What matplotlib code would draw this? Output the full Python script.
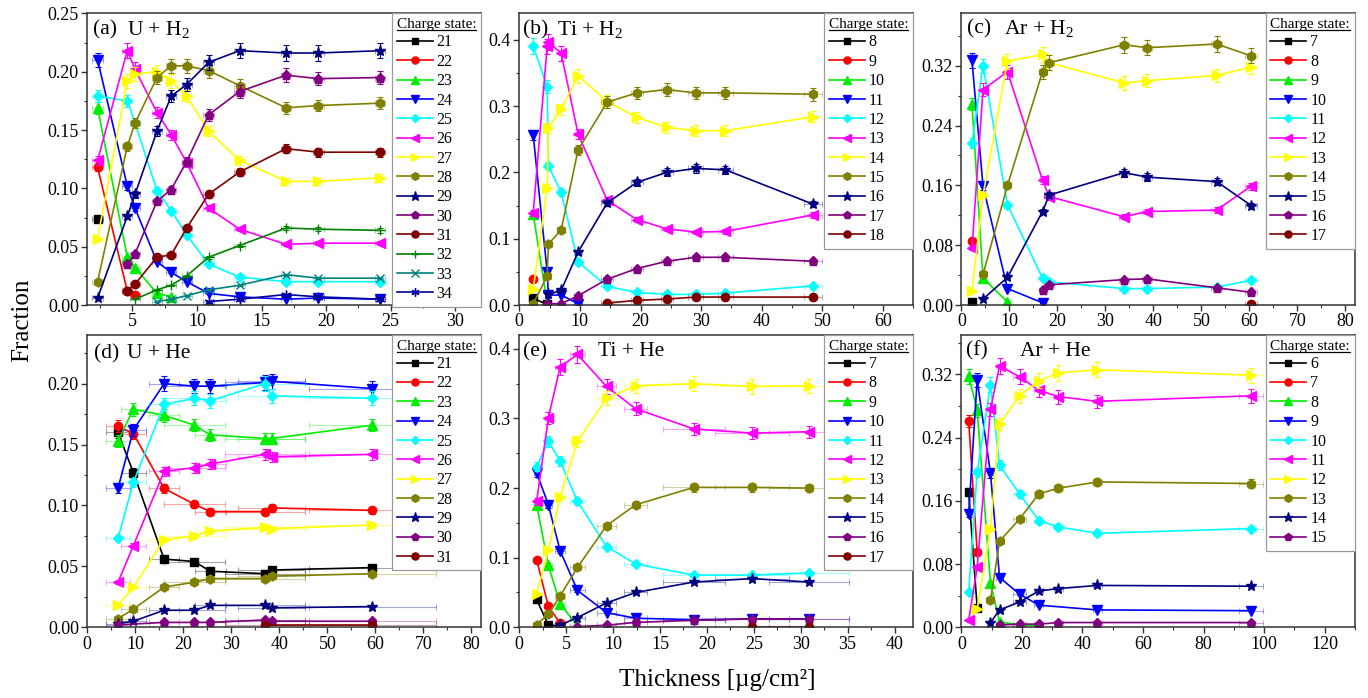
import numpy as np
import matplotlib

matplotlib.use("Agg")
import matplotlib.pyplot as plt
from matplotlib.lines import Line2D
from matplotlib.ticker import MultipleLocator, FormatStrFormatter

nan = np.nan

# ── (a) U + H2 ───────────────────────────────────────────────────────────────
THICK_A = [2.3, 4.6, 5.2, 6.9, 8.0, 9.2, 10.9, 13.3, 16.9, 19.4, 24.2]
XERR_A = [0.4, 0.4, 0.4, 0.4, 0.4, 0.4, 0.4, 0.4, 0.4, 0.4, 0.4]
STATES_A = [21, 22, 23, 24, 25, 26, 27, 28, 29, 30, 31, 32, 33, 34]
FRAC_A = [
    [0.074, nan, nan, nan, nan, nan, nan, nan, nan, nan, nan],
    [0.118, 0.012, 0.009, nan, nan, nan, nan, nan, nan, nan, nan],
    [0.169, 0.041, 0.032, 0.010, 0.007, nan, nan, nan, nan, nan, nan],
    [0.210, 0.102, 0.083, 0.037, 0.028, 0.020, 0.010, 0.007, 0.005, 0.006, 0.005],
    [0.179, 0.175, 0.156, 0.098, 0.081, 0.060, 0.035, 0.024, 0.020, 0.020, 0.020],
    [0.124, 0.218, 0.202, 0.165, 0.146, 0.122, 0.083, 0.065, 0.052, 0.053, 0.053],
    [0.057, 0.192, 0.198, 0.200, 0.192, 0.179, 0.149, 0.124, 0.106, 0.106, 0.109],
    [0.020, 0.136, 0.156, 0.195, 0.205, 0.205, 0.201, 0.188, 0.169, 0.171, 0.173],
    [0.006, 0.076, 0.095, 0.149, 0.179, 0.189, 0.208, 0.218, 0.216, 0.216, 0.218],
    [nan, 0.035, 0.044, 0.089, 0.099, 0.123, 0.163, 0.183, 0.197, 0.194, 0.195],
    [nan, 0.012, 0.018, 0.041, 0.043, 0.066, 0.095, 0.114, 0.134, 0.131, 0.131],
    [nan, nan, 0.005, 0.013, 0.017, 0.025, 0.041, 0.051, 0.066, 0.065, 0.064],
    [nan, nan, nan, 0.003, 0.005, 0.008, 0.013, 0.017, 0.026, 0.023, 0.023],
    [nan, nan, nan, nan, nan, nan, 0.003, 0.005, 0.009, 0.007, 0.005],
]

# ── (b) Ti + H2 ──────────────────────────────────────────────────────────────
THICK_B = [2.3, 4.6, 4.8, 6.9, 9.7, 14.5, 19.4, 24.3, 29.1, 34.0, 48.5]
XERR_B = [0.3, 0.3, 0.3, 0.4, 0.6, 1.0, 1.0, 1.0, 1.2, 1.2, 1.5]
STATES_B = [8, 9, 10, 11, 12, 13, 14, 15, 16, 17, 18]
FRAC_B = [
    [0.010, 0.001, nan, nan, nan, nan, nan, nan, nan, nan, nan],
    [0.039, nan, nan, nan, nan, nan, nan, nan, nan, nan, nan],
    [0.137, 0.003, nan, nan, nan, nan, nan, nan, nan, nan, nan],
    [0.256, 0.050, 0.015, 0.015, 0.002, nan, nan, nan, nan, nan, nan],
    [0.391, 0.329, 0.210, 0.170, 0.065, 0.028, 0.019, 0.016, 0.016, 0.018, 0.029],
    [0.139, 0.390, 0.397, 0.380, 0.258, 0.158, 0.129, 0.115, 0.110, 0.111, 0.136],
    [0.024, 0.177, 0.267, 0.295, 0.346, 0.307, 0.283, 0.268, 0.263, 0.263, 0.284],
    [0.002, 0.044, 0.092, 0.113, 0.234, 0.306, 0.320, 0.325, 0.320, 0.320, 0.318],
    [nan, nan, 0.016, 0.022, 0.080, 0.154, 0.185, 0.200, 0.206, 0.204, 0.152],
    [nan, 0.002, nan, 0.002, 0.014, 0.039, 0.055, 0.066, 0.072, 0.072, 0.066],
    [nan, nan, nan, nan, nan, 0.003, 0.007, 0.009, 0.012, 0.012, 0.012],
]

# ── (c) Ar + H2 ──────────────────────────────────────────────────────────────
THICK_C = [2.2, 4.5, 9.6, 16.9, 18.3, 33.9, 38.7, 53.2, 60.4]
XERR_C = [0.3, 0.3, 0.5, 0.6, 1.0, 1.1, 1.1, 1.1, 1.2]
STATES_C = [7, 8, 9, 10, 11, 12, 13, 14, 15, 16, 17]
FRAC_C = [
    [0.004, nan, nan, nan, nan, nan, nan, nan, nan],
    [0.086, nan, nan, nan, nan, nan, nan, nan, nan],
    [0.269, 0.036, 0.004, nan, nan, nan, nan, nan, nan],
    [0.327, 0.159, 0.022, 0.003, nan, nan, nan, nan, nan],
    [0.217, 0.320, 0.134, 0.036, 0.031, 0.022, 0.022, 0.024, 0.033],
    [0.076, 0.288, 0.312, 0.167, 0.145, 0.118, 0.125, 0.127, 0.159],
    [0.019, 0.147, 0.326, 0.335, 0.324, 0.297, 0.300, 0.307, 0.318],
    [nan, 0.041, 0.160, 0.312, 0.324, 0.348, 0.344, 0.349, 0.333],
    [nan, 0.008, 0.037, 0.125, 0.147, 0.177, 0.171, 0.165, 0.133],
    [nan, nan, nan, 0.020, 0.027, 0.034, 0.035, 0.023, 0.017],
    [nan, nan, nan, nan, nan, nan, nan, nan, 0.001],
]

# ── (d) U + He ───────────────────────────────────────────────────────────────
THICK_D = [6.4, 9.6, 16.0, 22.3, 25.6, 37.0, 38.4, 59.4]
XERR_D = [2.5, 2.6, 3.2, 6.3, 3.2, 8.4, 7.0, 13.2]
STATES_D = [21, 22, 23, 24, 25, 26, 27, 28, 29, 30, 31]
FRAC_D = [
    [0.160, 0.127, 0.056, 0.054, 0.046, 0.044, 0.047, 0.049],
    [0.165, 0.159, 0.114, 0.101, 0.095, 0.095, 0.098, 0.096],
    [0.153, 0.179, 0.174, 0.166, 0.158, 0.155, 0.155, 0.166],
    [0.114, 0.162, 0.200, 0.198, 0.198, 0.201, 0.202, 0.196],
    [0.073, 0.119, 0.183, 0.188, 0.186, 0.200, 0.190, 0.188],
    [0.037, 0.067, 0.128, 0.131, 0.134, 0.142, 0.140, 0.142],
    [0.018, 0.033, 0.072, 0.075, 0.079, 0.082, 0.081, 0.084],
    [0.007, 0.015, 0.033, 0.037, 0.040, 0.040, 0.042, 0.044],
    [0.003, 0.005, 0.014, 0.014, 0.018, 0.018, 0.016, 0.017],
    [0.002, nan, 0.004, 0.004, 0.004, 0.006, 0.005, 0.005],
    [nan, nan, nan, nan, nan, 0.002, nan, 0.002],
]

# ── (e) Ti + He ──────────────────────────────────────────────────────────────
THICK_E = [1.85, 3.1, 4.35, 6.2, 9.3, 12.4, 18.6, 24.8, 30.9]
XERR_E = [0.3, 0.4, 0.5, 0.8, 1.0, 1.2, 3.3, 3.9, 4.3]
STATES_E = [7, 8, 9, 10, 11, 12, 13, 14, 15, 16, 17]
FRAC_E = [
    [0.040, 0.003, 0.002, nan, nan, nan, nan, nan, nan],
    [0.097, 0.030, 0.006, nan, nan, nan, nan, nan, nan],
    [0.176, 0.089, 0.034, 0.002, nan, nan, nan, nan, nan],
    [0.222, 0.176, 0.110, 0.053, 0.021, 0.013, 0.011, 0.012, 0.012],
    [0.231, 0.267, 0.239, 0.181, 0.116, 0.091, 0.075, 0.075, 0.078],
    [0.181, 0.301, 0.374, 0.392, 0.346, 0.314, 0.285, 0.279, 0.281],
    [0.048, 0.111, 0.187, 0.267, 0.329, 0.347, 0.350, 0.346, 0.347],
    [0.004, 0.019, 0.045, 0.086, 0.146, 0.176, 0.201, 0.201, 0.200],
    [nan, nan, 0.003, 0.014, 0.035, 0.050, 0.065, 0.070, 0.065],
    [nan, nan, nan, 0.001, 0.003, 0.007, 0.010, 0.012, 0.012],
    [nan, nan, nan, nan, nan, nan, nan, 0.001, 0.001],
]

# ── (f) Ar + He ──────────────────────────────────────────────────────────────
THICK_F = [2.4, 5.2, 9.6, 12.6, 19.2, 25.6, 32.0, 44.9, 95.8]
XERR_F = [0.4, 0.5, 0.8, 1.2, 2.0, 1.5, 1.5, 1.5, 4.0]
STATES_F = [6, 7, 8, 9, 10, 11, 12, 13, 14, 15]
FRAC_F = [
    [0.171, 0.025, nan, nan, nan, nan, nan, nan, nan],
    [0.261, 0.095, nan, nan, nan, nan, nan, nan, nan],
    [0.318, 0.275, 0.056, 0.007, 0.003, 0.002, nan, nan, nan],
    [0.144, 0.313, 0.195, 0.063, 0.042, 0.028, nan, 0.022, 0.021],
    [0.045, 0.196, 0.307, 0.205, 0.169, 0.135, 0.127, 0.119, 0.125],
    [0.009, 0.076, 0.276, 0.331, 0.317, 0.300, 0.292, 0.286, 0.293],
    [nan, 0.023, 0.125, 0.257, 0.293, 0.312, 0.322, 0.326, 0.319],
    [nan, nan, 0.034, 0.109, 0.137, 0.169, 0.176, 0.184, 0.182],
    [nan, nan, 0.006, 0.022, 0.032, 0.046, 0.049, 0.053, 0.052],
    [nan, nan, nan, 0.003, 0.004, 0.004, 0.006, 0.006, 0.006],
]

# relative uncertainty of the measured fractions
REL_YERR = 0.03

# Origin-like colour/marker cycle, one per charge state in order
COLOURS = ["#000000", "#FF0000", "#00EE00", "#0000FF", "#00FFFF", "#FF00FF",
           "#FFFF00", "#808000", "#000080", "#800080", "#800000", "#008000",
           "#008080", "#0000A0"]
MARKERS = ["s", "o", "^", "v", "D", "<", ">", "h", "*", "p", "o", "+", "x",
           (6, 2, 0)]
MSIZE = {"s": 5.5, "o": 6, "^": 6.5, "v": 6.5, "D": 5, "<": 6.5, ">": 6.5,
         "h": 6.5, "*": 8, "p": 6.5, "+": 7, "x": 6}

plt.rcParams.update({
    "font.family": ["Liberation Serif", "DejaVu Serif"],
    "mathtext.fontset": "custom",
    "mathtext.rm": "Liberation Serif",
    "mathtext.it": "Liberation Serif:italic",
    "axes.linewidth": 1.1,
    "axes.edgecolor": "#333333",
})


def draw_panel(ax, thick, xerr, states, fracs, tag, target, tag_x, target_x,
               text_y, xlim, xmajor, ylim, ymajor, yfmt):
    thick = np.asarray(thick, float)
    xerr = np.asarray(xerr, float)
    handles = []
    for i, (q, f) in enumerate(zip(states, fracs)):
        f = np.asarray(f, float)
        ok = np.isfinite(f)
        x, y = thick[ok], f[ok]
        c, m = COLOURS[i], MARKERS[i]
        ax.errorbar(x, y, xerr=xerr[ok], fmt="none", ecolor=c, alpha=0.35,
                    elinewidth=0.8, capsize=2, capthick=0.8)
        ax.errorbar(x, y, yerr=REL_YERR * y, fmt="none", ecolor=c,
                    elinewidth=0.8, capsize=2, capthick=0.8)
        ms = MSIZE.get(m, 6.5) if isinstance(m, str) else 7
        ln, = ax.plot(x, y, color=c, lw=1.2, marker=m, ms=ms, mfc=c, mec=c,
                      mew=1.0, label=str(q))
        handles.append(ln)

    ax.set_xlim(*xlim)
    ax.set_ylim(*ylim)
    ax.xaxis.set_major_locator(MultipleLocator(xmajor))
    ax.xaxis.set_minor_locator(MultipleLocator(xmajor / 2))
    ax.yaxis.set_major_locator(MultipleLocator(ymajor))
    ax.yaxis.set_minor_locator(MultipleLocator(ymajor / 2))
    ax.yaxis.set_major_formatter(FormatStrFormatter(yfmt))
    ax.tick_params(which="both", direction="out", top=False, right=False,
                   labelsize=13, pad=2, color="#333333")
    ax.tick_params(which="major", length=4, width=1)
    ax.tick_params(which="minor", length=2.5, width=0.8)

    ax.text(tag_x, text_y, tag, transform=ax.transAxes, fontsize=15.5,
            va="center", ha="left")
    ax.text(target_x, text_y, target, transform=ax.transAxes, fontsize=15.5,
            va="center", ha="left")

    leg = ax.legend(handles=handles, loc="upper right", borderaxespad=0,
                    title="Charge state:", fontsize=11.5, title_fontsize=11,
                    frameon=True, fancybox=False, edgecolor="#9a9a9a",
                    framealpha=1, handlelength=2.25, handletextpad=0.25,
                    labelspacing=0.21, borderpad=0.3, markerscale=0.85)
    leg._legend_box.align = "left"
    leg.get_frame().set_linewidth(0.9)
    return leg


fig = plt.figure(figsize=(13.68, 6.98), dpi=100)
cols = [0.0638, 0.3796, 0.7028]
widths = [0.2878, 0.2880, 0.2876]
rows = [0.5630, 0.1013]
heights = [0.4179, 0.4188]
axs = [[fig.add_axes([cols[j], rows[i], widths[j], heights[i]])
        for j in range(3)] for i in range(2)]

legends = [
    draw_panel(axs[0][0], THICK_A, XERR_A, STATES_A, FRAC_A, "(a)",
               "U + H$_2$", 0.014, 0.102, 0.945, (1.5, 32), 5, (0, 0.25),
               0.05, "%.2f"),
    draw_panel(axs[0][1], THICK_B, XERR_B, STATES_B, FRAC_B, "(b)",
               "Ti + H$_2$", 0.009, 0.095, 0.945, (0, 65), 10, (0, 0.44),
               0.1, "%.1f"),
    draw_panel(axs[0][2], THICK_C, XERR_C, STATES_C, FRAC_C, "(c)",
               "Ar + H$_2$", 0.013, 0.108, 0.948, (0, 82), 10, (0, 0.39),
               0.08, "%.2f"),
    draw_panel(axs[1][0], THICK_D, XERR_D, STATES_D, FRAC_D, "(d)",
               "U + He", 0.017, 0.100, 0.937, (0, 82), 10, (0, 0.24),
               0.05, "%.2f"),
    draw_panel(axs[1][1], THICK_E, XERR_E, STATES_E, FRAC_E, "(e)",
               "Ti + He", 0.010, 0.200, 0.943, (0, 42), 5, (0, 0.42),
               0.1, "%.1f"),
    draw_panel(axs[1][2], THICK_F, XERR_F, STATES_F, FRAC_F, "(f)",
               "Ar + He", 0.011, 0.150, 0.945, (0, 130), 20, (0, 0.37),
               0.08, "%.2f"),
]

fig.text(0.016, 0.5415, "Fraction", rotation=90, fontsize=18,
         ha="center", va="center")
fig.text(0.524, 0.026, "Thickness [µg/cm²]", fontsize=18,
         ha="center", va="center")

# underline the legend titles
fig.canvas.draw()
renderer = fig.canvas.get_renderer()
inv = fig.transFigure.inverted()
for leg in legends:
    bb = leg.get_title().get_window_extent(renderer)
    (x0, y0), (x1, _) = inv.transform([(bb.x0, bb.y0 + 1), (bb.x1, bb.y0)])
    fig.add_artist(Line2D([x0, x1], [y0, y0], color="black", lw=0.9))

fig.savefig("out.png", dpi=100)
